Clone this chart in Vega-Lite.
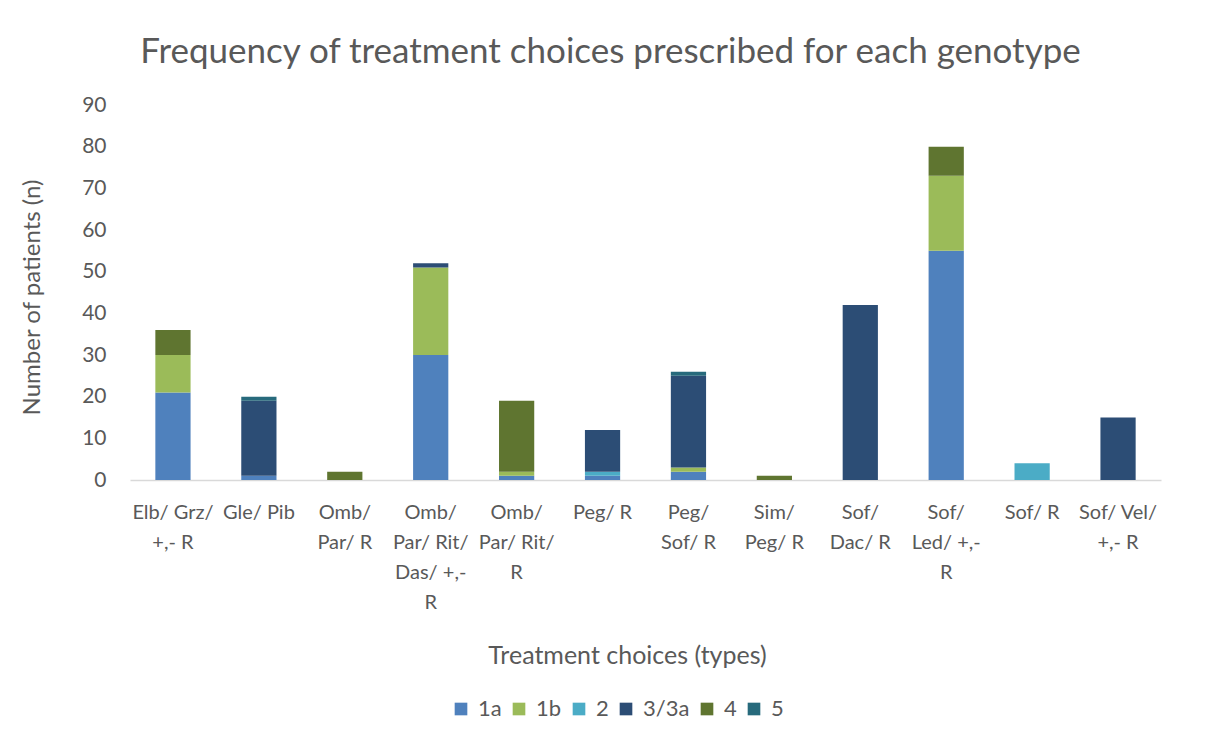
{
  "$schema": "https://vega.github.io/schema/vega-lite/v6.json",
  "width": 1031,
  "height": 375,
  "autosize": "none",
  "padding": {"left": 130, "top": 105, "right": 45, "bottom": 262},
  "background": "white",
  "config": {"view": {"stroke": null}, "font": "Lato"},
  "title": {
    "text": "Frequency of treatment choices prescribed for each genotype",
    "fontSize": 35,
    "fontWeight": "normal",
    "color": "#595959",
    "font": "Lato",
    "anchor": "middle",
    "dx": -35,
    "offset": 24
  },
  "data": {
    "values": [
      {"treatment": "Elb/ Grz/ +,- R", "genotype": "1a", "n": 21},
      {"treatment": "Elb/ Grz/ +,- R", "genotype": "1b", "n": 9},
      {"treatment": "Elb/ Grz/ +,- R", "genotype": "4", "n": 6},
      {"treatment": "Gle/ Pib", "genotype": "1a", "n": 1},
      {"treatment": "Gle/ Pib", "genotype": "3/3a", "n": 18},
      {"treatment": "Gle/ Pib", "genotype": "5", "n": 1},
      {"treatment": "Omb/ Par/ R", "genotype": "4", "n": 2},
      {"treatment": "Omb/ Par/ Rit/ Das/ +,- R", "genotype": "1a", "n": 30},
      {"treatment": "Omb/ Par/ Rit/ Das/ +,- R", "genotype": "1b", "n": 21},
      {"treatment": "Omb/ Par/ Rit/ Das/ +,- R", "genotype": "3/3a", "n": 1},
      {"treatment": "Omb/ Par/ Rit/ R", "genotype": "1a", "n": 1},
      {"treatment": "Omb/ Par/ Rit/ R", "genotype": "1b", "n": 1},
      {"treatment": "Omb/ Par/ Rit/ R", "genotype": "4", "n": 17},
      {"treatment": "Peg/ R", "genotype": "1a", "n": 1},
      {"treatment": "Peg/ R", "genotype": "2", "n": 1},
      {"treatment": "Peg/ R", "genotype": "3/3a", "n": 10},
      {"treatment": "Peg/ Sof/ R", "genotype": "1a", "n": 2},
      {"treatment": "Peg/ Sof/ R", "genotype": "1b", "n": 1},
      {"treatment": "Peg/ Sof/ R", "genotype": "3/3a", "n": 22},
      {"treatment": "Peg/ Sof/ R", "genotype": "5", "n": 1},
      {"treatment": "Sim/ Peg/ R", "genotype": "4", "n": 1},
      {"treatment": "Sof/ Dac/ R", "genotype": "3/3a", "n": 42},
      {"treatment": "Sof/ Led/ +,- R", "genotype": "1a", "n": 55},
      {"treatment": "Sof/ Led/ +,- R", "genotype": "1b", "n": 18},
      {"treatment": "Sof/ Led/ +,- R", "genotype": "4", "n": 7},
      {"treatment": "Sof/ R", "genotype": "2", "n": 4},
      {"treatment": "Sof/ Vel/ +,- R", "genotype": "3/3a", "n": 15}
    ]
  },
  "transform": [
    {"calculate": "indexof(['1a','1b','2','3/3a','4','5'], datum.genotype)", "as": "order"}
  ],
  "mark": {"type": "bar"},
  "encoding": {
    "x": {
      "field": "treatment",
      "type": "nominal",
      "sort": null,
      "scale": {"paddingInner": 0.59, "paddingOuter": 0.295},
      "axis": {
        "title": "Treatment choices (types)",
        "titleFont": "Lato",
        "titleFontSize": 25,
        "titleFontWeight": "normal",
        "titleColor": "#595959",
        "titleBaseline": "middle",
        "titleY": 175,
        "titleX": 497,
        "labelAngle": 0,
        "labelFont": "Lato",
        "labelFontSize": 20,
        "labelColor": "#595959",
        "labelPadding": 22,
        "labelLineHeight": 30,
        "labelLimit": 200,
        "ticks": false,
        "domainColor": "#D9D9D9",
        "domainWidth": 1.5,
        "labelExpr": "datum.value == 'Elb/ Grz/ +,- R' ? ['Elb/ Grz/', '+,- R'] : datum.value == 'Omb/ Par/ R' ? ['Omb/', 'Par/ R'] : datum.value == 'Omb/ Par/ Rit/ Das/ +,- R' ? ['Omb/', 'Par/ Rit/', 'Das/ +,-', 'R'] : datum.value == 'Omb/ Par/ Rit/ R' ? ['Omb/', 'Par/ Rit/', 'R'] : datum.value == 'Peg/ Sof/ R' ? ['Peg/', 'Sof/ R'] : datum.value == 'Sim/ Peg/ R' ? ['Sim/', 'Peg/ R'] : datum.value == 'Sof/ Dac/ R' ? ['Sof/', 'Dac/ R'] : datum.value == 'Sof/ Led/ +,- R' ? ['Sof/', 'Led/ +,-', 'R'] : datum.value == 'Sof/ Vel/ +,- R' ? ['Sof/ Vel/', '+,- R'] : datum.value"
      }
    },
    "y": {
      "field": "n",
      "type": "quantitative",
      "aggregate": "sum",
      "scale": {"domain": [0, 90]},
      "axis": {
        "title": "Number of patients (n)",
        "titleFont": "Lato",
        "titleFontSize": 24,
        "titleFontWeight": "normal",
        "titleColor": "#595959",
        "titleBaseline": "middle",
        "titleX": -98,
        "titleY": 192,
        "titleAngle": -90,
        "values": [0, 10, 20, 30, 40, 50, 60, 70, 80, 90],
        "labelFont": "Lato",
        "labelFontSize": 21,
        "labelColor": "#595959",
        "labelPadding": 24,
        "ticks": false,
        "domain": false,
        "grid": false
      }
    },
    "color": {
      "field": "genotype",
      "type": "nominal",
      "scale": {
        "domain": ["1a", "1b", "2", "3/3a", "4", "5"],
        "range": ["#4F81BD", "#9BBB59", "#4BACC6", "#2C4D75", "#5F7530", "#276A7C"]
      },
      "legend": {
        "title": null,
        "orient": "none",
        "legendX": 320,
        "legendY": 593,
        "direction": "horizontal",
        "symbolType": "square",
        "symbolSize": 160,
        "symbolStrokeWidth": 0,
        "labelFont": "Lato",
        "labelFontSize": 22,
        "labelColor": "#595959",
        "columnPadding": 6,
        "labelOffset": 6
      }
    },
    "order": {"field": "order", "type": "quantitative"}
  }
}
